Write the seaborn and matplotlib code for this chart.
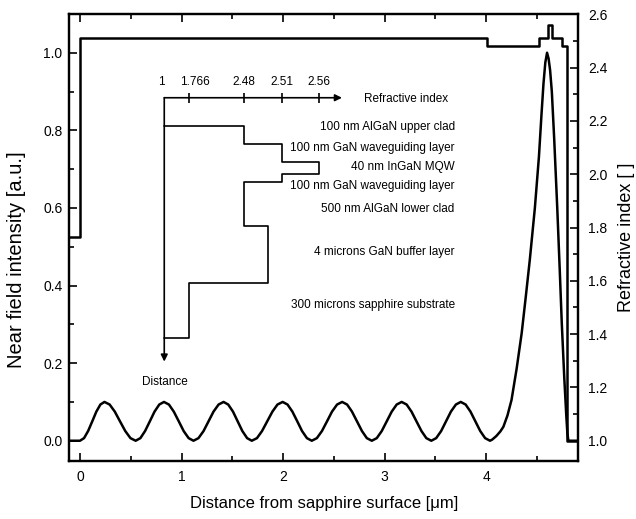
import matplotlib
matplotlib.use("Agg")
import matplotlib.pyplot as plt
import seaborn as sns
import pandas as pd

# near field intensity, x in um
field_x = [-0.105, 0.0,
           0.040, 0.080, 0.121, 0.161, 0.201, 0.241, 0.292, 0.343, 0.394, 0.446, 0.497, 0.548,
           0.595, 0.641, 0.688, 0.734, 0.781, 0.827, 0.876, 0.924, 0.973, 1.021, 1.070, 1.118,
           1.167, 1.217, 1.266, 1.315, 1.365, 1.414, 1.460, 1.507, 1.553, 1.599, 1.646, 1.692,
           1.743, 1.793, 1.844, 1.895, 1.945, 1.996, 2.044, 2.092, 2.140, 2.187, 2.235, 2.283,
           2.333, 2.383, 2.433, 2.482, 2.532, 2.582, 2.631, 2.679, 2.728, 2.777, 2.825, 2.874,
           2.923, 2.972, 3.021, 3.070, 3.119, 3.168, 3.217, 3.265, 3.314, 3.363, 3.411, 3.460,
           3.508, 3.557, 3.605, 3.653, 3.702, 3.750, 3.798, 3.846, 3.894, 3.942, 3.990, 4.038,
           4.06, 4.10, 4.14, 4.17, 4.21, 4.25, 4.30, 4.35, 4.39, 4.43, 4.48, 4.52, 4.545,
           4.565, 4.583, 4.60, 4.615, 4.63, 4.647, 4.67, 4.70, 4.725, 4.745, 4.77, 4.79,
           4.80, 4.81, 4.906]
field_y = [0.0, 0.0,
           0.0067, 0.025, 0.05, 0.075, 0.0933, 0.10, 0.0933, 0.075, 0.05, 0.025, 0.0067, 0.0,
           0.0067, 0.025, 0.05, 0.075, 0.0933, 0.10, 0.0933, 0.075, 0.05, 0.025, 0.0067, 0.0,
           0.0067, 0.025, 0.05, 0.075, 0.0933, 0.10, 0.0933, 0.075, 0.05, 0.025, 0.0067, 0.0,
           0.0067, 0.025, 0.05, 0.075, 0.0933, 0.10, 0.0933, 0.075, 0.05, 0.025, 0.0067, 0.0,
           0.0067, 0.025, 0.05, 0.075, 0.0933, 0.10, 0.0933, 0.075, 0.05, 0.025, 0.0067, 0.0,
           0.0067, 0.025, 0.05, 0.075, 0.0933, 0.10, 0.0933, 0.075, 0.05, 0.025, 0.0067, 0.0,
           0.0067, 0.025, 0.05, 0.075, 0.0933, 0.10, 0.0933, 0.075, 0.05, 0.025, 0.0067, 0.0,
           0.003, 0.012, 0.024, 0.036, 0.065, 0.105, 0.185, 0.277, 0.37, 0.466, 0.60, 0.732, 0.84,
           0.921, 0.975, 1.0, 0.985, 0.955, 0.90, 0.78, 0.603, 0.44, 0.303, 0.16, 0.062,
           0.02, 0.0, 0.0]

# refractive index profile (steps)
index_x = [-0.105, 0.0, 4.01, 4.52, 4.61, 4.65, 4.75, 4.80, 4.906]
index_n = [1.766, 2.51, 2.48, 2.51, 2.56, 2.51, 2.48, 1.0, 1.0]

# schematic inset (drawn in left-axis units)
inset_tick_x = [0.83, 1.077, 1.616, 1.993, 2.358]
inset_tick_lab = ["1", "1.766", "2.48", "2.51", "2.56"]
inset_lab_x = [0.805, 1.133, 1.616, 1.993, 2.358]
layer_top = [0.812, 0.766, 0.719, 0.687, 0.666, 0.554, 0.407, 0.264]
layer_x = [1.616, 1.993, 2.358, 1.993, 1.616, 1.855, 1.077, 0.83]
layer_names = ["100 nm AlGaN upper clad", "100 nm GaN waveguiding layer",
               "40 nm InGaN MQW", "100 nm GaN waveguiding layer",
               "500 nm AlGaN lower clad", "4 microns GaN buffer layer",
               "300 microns sapphire substrate"]
layer_lab_y = [0.808, 0.755, 0.705, 0.656, 0.597, 0.487, 0.350]

sns.set_style("ticks", {"axes.edgecolor": "black", "xtick.color": "black",
                        "ytick.color": "black", "text.color": "black",
                        "axes.labelcolor": "black"})
plt.rcParams['font.family'] = ['Liberation Sans', 'DejaVu Sans']

fig = plt.figure(figsize=(6.36, 5.19), dpi=100)
ax = fig.add_axes([0.109, 0.1123, 0.800, 0.8601])
ax2 = ax.twinx()

df_f = pd.DataFrame({"x": field_x, "y": field_y})
df_n = pd.DataFrame({"x": index_x, "n": index_n})
sns.lineplot(data=df_f, x="x", y="y", ax=ax, color="k", lw=1.8, sort=False, estimator=None)
sns.lineplot(data=df_n, x="x", y="n", ax=ax2, color="k", lw=1.8, sort=False,
             estimator=None, drawstyle="steps-post")

ax.set_xlim(-0.105, 4.906)
ax.set_ylim(-0.0515, 1.099)
ax2.set_ylim(0.925, 2.6)

ax.set_xticks([0, 1, 2, 3, 4])
ax.set_xticks([0.5, 1.5, 2.5, 3.5, 4.5], minor=True)
ax.set_yticks([0.0, 0.2, 0.4, 0.6, 0.8, 1.0])
ax.set_yticks([0.1, 0.3, 0.5, 0.7, 0.9], minor=True)
ax2.set_yticks([1.0, 1.2, 1.4, 1.6, 1.8, 2.0, 2.2, 2.4, 2.6])
ax2.set_yticks([1.1, 1.3, 1.5, 1.7, 1.9, 2.1, 2.3, 2.5], minor=True)
ax.set_yticklabels(["0.0", "0.2", "0.4", "0.6", "0.8", "1.0"])
ax2.set_yticklabels(["1.0", "1.2", "1.4", "1.6", "1.8", "2.0", "2.2", "2.4", "2.6"])

ax.tick_params(which="both", direction="in", top=True, right=False, width=1.2, labelsize=10)
ax.tick_params(which="major", length=6)
ax.tick_params(which="minor", length=3.5)
ax.tick_params(axis="x", pad=7)
ax.tick_params(axis="y", pad=5)
ax2.tick_params(which="both", direction="in", width=1.2, labelsize=10, pad=7)
ax2.tick_params(which="major", length=6)
ax2.tick_params(which="minor", length=3.5)
for a in (ax, ax2):
    for s in a.spines.values():
        s.set_linewidth(1.6)
        s.set_color("black")
        s.set_visible(True)

ax.set_xlabel("Distance from sapphire surface [\u03bcm]", fontsize=12, labelpad=8)
ax.set_ylabel("Near field intensity [a.u.]", fontsize=14.5)
ax.yaxis.set_label_coords(-0.085, 0.45)
ax2.set_ylabel("Refractive index [ ]", fontsize=13, labelpad=8)

# inset: refractive index axis and distance axis
x0, y0 = inset_tick_x[0], 0.884
ax.annotate("", xy=(2.58, y0), xytext=(x0, y0),
            arrowprops=dict(arrowstyle="-|>", lw=1.2, color="k", mutation_scale=10, shrinkA=0, shrinkB=0))
ax.annotate("", xy=(x0, 0.204), xytext=(x0, y0),
            arrowprops=dict(arrowstyle="-|>", lw=1.2, color="k", mutation_scale=10, shrinkA=0, shrinkB=0))
ax.plot(inset_tick_x[1:], [y0] * 4, ls="none", marker="|", ms=7, mew=1.2, color="k")
for xl, t in zip(inset_lab_x, inset_tick_lab):
    ax.text(xl, 0.925, t, ha="center", va="center", fontsize=8.5)
ax.text(2.80, 0.880, "Refractive index", ha="left", va="center", fontsize=8.5)
ax.text(0.837, 0.152, "Distance", ha="center", va="center", fontsize=8.5)

px, py = [x0], [layer_top[0]]
for i, lx in enumerate(layer_x):
    px += [lx, lx]
    py += [layer_top[i], layer_top[i + 1] if i + 1 < len(layer_top) else layer_top[i]]
px, py = px[:-1], py[:-1]
ax.plot(px, py, color="k", lw=1.2)

for yl, t in zip(layer_lab_y, layer_names):
    ax.text(3.69, yl, t, ha="right", va="center", fontsize=8.5)

fig.savefig("out.png", dpi=100)
